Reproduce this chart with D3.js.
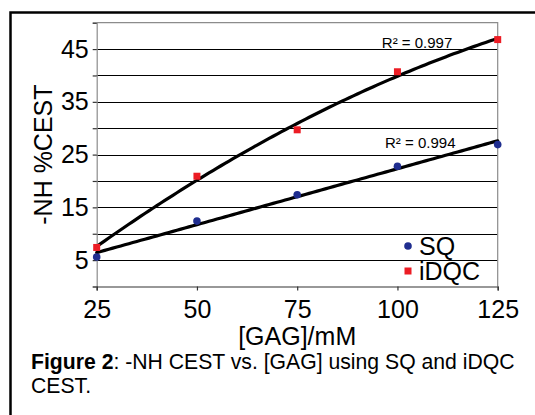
<!DOCTYPE html>
<html>
<head>
<meta charset="utf-8">
<script src="https://cdnjs.cloudflare.com/ajax/libs/d3/7.8.5/d3.min.js"></script>
<style>
  html, body { margin: 0; padding: 0; background: #fff; }
  svg { display: block; font-family: Arial, 'Liberation Sans', sans-serif; }
</style>
</head>
<body>
<svg id="chart" width="535" height="415"></svg>
<script>
// values
var gag = [25, 50, 75, 100, 125];
var sqValues = [5.6, 12.4, 17.4, 22.8, 26.9];
var idqcValues = [7.4, 20.9, 29.7, 40.7, 46.8];
var xTicks = [25, 50, 75, 100, 125];
var yLabelTicks = [5, 15, 25, 35, 45];
var yGridTicks = [5, 10, 15, 20, 25, 30, 35, 40, 45];
var seriesNames = ['SQ', 'iDQC'];
var r2Text = ['R\u00b2 = 0.994', 'R\u00b2 = 0.997'];

var blue = '#1f2d8f',
  red = '#ec1c24';

// least squares polynomial fit, returns coefficients [c0, c1, c2...]
function polyFit(xs, ys, order) {
  var n = order + 1, A = [], i, j, k;
  for (i = 0; i < n; i++) {
    A.push([]);
    for (j = 0; j <= n; j++) A[i].push(0);
  }
  xs.forEach(function(x, p) {
    for (i = 0; i < n; i++) {
      for (j = 0; j < n; j++) A[i][j] += Math.pow(x, i + j);
      A[i][n] += ys[p] * Math.pow(x, i);
    }
  });
  for (i = 0; i < n; i++) {
    for (k = i + 1; k < n; k++) {
      var f = A[k][i] / A[i][i];
      for (j = i; j <= n; j++) A[k][j] -= f * A[i][j];
    }
  }
  var c = [];
  for (i = n - 1; i >= 0; i--) {
    var s = A[i][n];
    for (j = i + 1; j < n; j++) s -= A[i][j] * c[j];
    c[i] = s / A[i][i];
  }
  return c;
}

function polyAt(c, x) {
  return c.reduce(function(s, v, i) { return s + v * Math.pow(x, i); }, 0);
}

var svg = d3.select('#chart');

var plotLeft = 96.7, plotRight = 497.7, plotTop = 22.7, plotBottom = 286.5;

var x = d3.scaleLinear().domain([25, 125]).range([plotLeft, plotRight]);
var y = d3.scaleLinear().domain([0, 50]).range([plotBottom, plotTop]);

// outer frame, cut off at the right and bottom
svg.append('rect')
  .attr('x', 10.5)
  .attr('y', 12.5)
  .attr('width', 700)
  .attr('height', 600)
  .attr('fill', 'none')
  .attr('stroke', '#000')
  .attr('stroke-width', 2.5);

// gridlines
svg.append('g')
  .selectAll('line')
  .data(yGridTicks)
  .enter().append('line')
  .attr('x1', plotLeft)
  .attr('x2', plotRight)
  .attr('y1', function(d) { return Math.round(y(d)) + 0.5; })
  .attr('y2', function(d) { return Math.round(y(d)) + 0.5; })
  .attr('stroke', '#000')
  .attr('stroke-width', 1.2);

// plot border top / right
svg.append('path')
  .attr('d', 'M' + plotLeft + ',' + plotTop + 'H' + plotRight + 'V' + plotBottom)
  .attr('fill', 'none')
  .attr('stroke', '#8c8c8c')
  .attr('stroke-width', 1.2);

// y axis
var yAxis = svg.append('g')
  .attr('transform', 'translate(' + plotLeft + ',0)')
  .call(d3.axisLeft(y).tickValues(d3.range(0, 51, 5)).tickSize(4).tickFormat(function(d) {
    return yLabelTicks.indexOf(d) >= 0 ? d : '';
  }).tickPadding(4));
yAxis.select('.domain').attr('stroke', '#8c8c8c').attr('stroke-width', 1.2);
yAxis.selectAll('.tick line').attr('stroke', '#333').attr('stroke-width', 1.2);
yAxis.selectAll('.tick text')
  .attr('font-size', 25)
  .attr('font-family', 'Arial, Liberation Sans, sans-serif')
  .attr('fill', '#000');

// x axis
var xAxis = svg.append('g')
  .attr('transform', 'translate(0,' + plotBottom + ')')
  .call(d3.axisBottom(x).tickValues(xTicks).tickSize(4).tickPadding(10));
xAxis.select('.domain').attr('stroke', '#333').attr('stroke-width', 1.2);
xAxis.selectAll('.tick line').attr('stroke', '#333').attr('stroke-width', 1.2);
xAxis.selectAll('.tick text')
  .attr('font-size', 25)
  .attr('font-family', 'Arial, Liberation Sans, sans-serif')
  .attr('fill', '#000');

// axis titles
svg.append('text')
  .attr('x', (plotLeft + plotRight) / 2)
  .attr('y', 345)
  .attr('text-anchor', 'middle')
  .attr('font-size', 25)
  .text('[GAG]/mM');

svg.append('text')
  .attr('transform', 'translate(52,' + ((plotTop + plotBottom) / 2) + ') rotate(-90)')
  .attr('text-anchor', 'middle')
  .attr('font-size', 25)
  .text('-NH %CEST');

// trendlines: linear for SQ, 2nd order for iDQC
var fits = [polyFit(gag, sqValues, 1), polyFit(gag, idqcValues, 2)];
var line = d3.line()
  .x(function(d) { return x(d[0]); })
  .y(function(d) { return y(d[1]); })
  .curve(d3.curveLinear);

fits.forEach(function(c) {
  var pts = d3.range(25, 125.5, 1).map(function(v) { return [v, polyAt(c, v)]; });
  svg.append('path')
    .attr('d', line(pts))
    .attr('fill', 'none')
    .attr('stroke', '#000')
    .attr('stroke-width', 3.2)
    .attr('stroke-linecap', 'round');
});

// points
svg.append('g')
  .selectAll('circle')
  .data(gag)
  .enter().append('circle')
  .attr('cx', function(d) { return x(d); })
  .attr('cy', function(d, i) { return y(sqValues[i]); })
  .attr('r', 3.8)
  .attr('fill', blue);

svg.append('g')
  .selectAll('rect')
  .data(gag)
  .enter().append('rect')
  .attr('x', function(d) { return x(d) - 3.5; })
  .attr('y', function(d, i) { return y(idqcValues[i]) - 3.5; })
  .attr('width', 7)
  .attr('height', 7)
  .attr('fill', red);

// R squared labels
svg.append('text')
  .attr('x', x(96.9))
  .attr('y', y(26.3))
  .attr('font-size', 15)
  .text(r2Text[0]);

svg.append('text')
  .attr('x', x(96.1))
  .attr('y', y(45.2))
  .attr('font-size', 15)
  .text(r2Text[1]);

// legend
var legend = svg.append('g').attr('transform', 'translate(408,246)');
legend.append('circle').attr('cx', 0).attr('cy', 0).attr('r', 3.8).attr('fill', blue);
legend.append('rect').attr('x', -3.5).attr('y', 21.5).attr('width', 7).attr('height', 7).attr('fill', red);
legend.selectAll('text')
  .data(seriesNames)
  .enter().append('text')
  .attr('x', 11)
  .attr('y', function(d, i) { return 9 + i * 25; })
  .attr('font-size', 25)
  .text(function(d) { return d; });

// caption
var cap = svg.append('text')
  .attr('x', 31)
  .attr('y', 369)
  .attr('font-size', 21.2);
cap.append('tspan').attr('font-weight', 'bold').text('Figure 2');
cap.append('tspan').text(': -NH CEST vs. [GAG] using SQ and iDQC');
svg.append('text')
  .attr('x', 31)
  .attr('y', 393)
  .attr('font-size', 21.2)
  .text('CEST.');
</script>
</body>
</html>
